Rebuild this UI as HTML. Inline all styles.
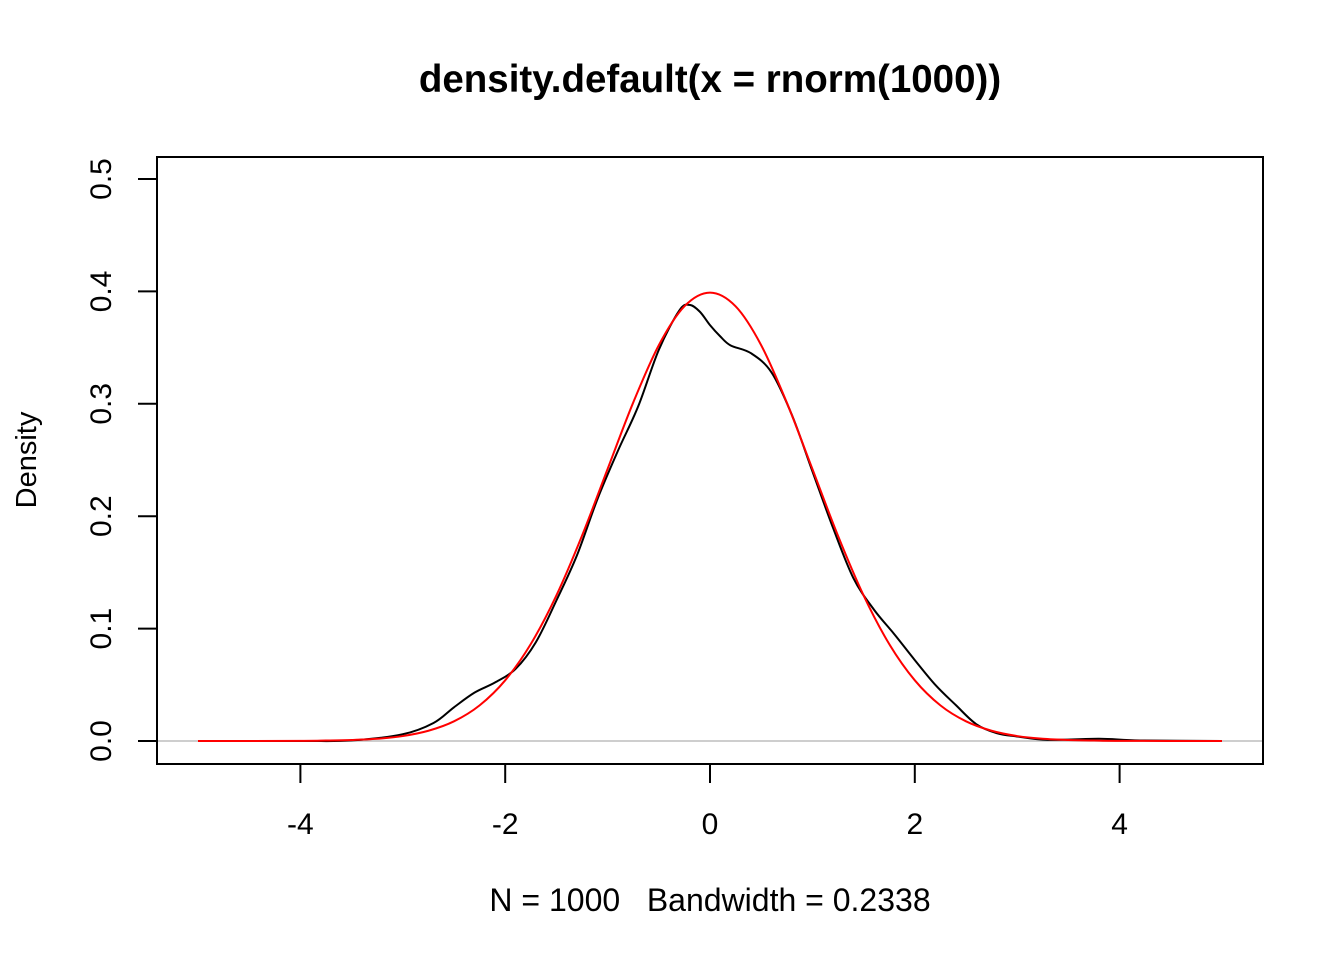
<!DOCTYPE html>
<html><head><meta charset="utf-8"><style>
body{margin:0;background:#fff}
svg{display:block;font-family:"Liberation Sans",Arial,sans-serif}
</style></head><body>
<svg id="chart" width="1344" height="960">
<text x="710" y="92" text-anchor="middle" font-size="38.5" font-weight="bold">density.default(x = rnorm(1000))</text>
<rect x="157" y="157" width="1106" height="607" fill="none" stroke="#000" stroke-width="2"/>
<text x="710" y="911" text-anchor="middle" font-size="32" xml:space="preserve" style="white-space:pre">N = 1000   Bandwidth = 0.2338</text>
<text transform="translate(36,460) rotate(-90)" text-anchor="middle" font-size="29">Density</text>
<g id="axes"></g>
<g id="marks"></g>
</svg>
<script>
const xTicks=[-4,-2,0,2,4];
const yTicks=[0,0.1,0.2,0.3,0.4,0.5];
const yTickLabels=["0.0","0.1","0.2","0.3","0.4","0.5"];
const kdeX=[-5,-4,-3.5,-3,-2.7,-2.5,-2.3,-2.1,-1.9,-1.7,-1.5,-1.3,-1.1,-0.9,-0.7,-0.5,-0.3,-0.2,-0.1,0,0.1,0.2,0.4,0.6,0.8,1.0,1.2,1.4,1.6,1.8,2.0,2.2,2.4,2.6,2.8,3.0,3.3,3.8,4.2,5];
const kdeY=[0,0,0.0005,0.006,0.016,0.03,0.043,0.052,0.064,0.088,0.125,0.165,0.215,0.258,0.298,0.348,0.383,0.388,0.382,0.37,0.36,0.352,0.345,0.328,0.29,0.24,0.19,0.145,0.117,0.095,0.072,0.05,0.032,0.015,0.007,0.004,0.001,0.002,0.0005,0];
const normX=[-5,-4,-3.75,-3.5,-3.25,-3,-2.75,-2.5,-2.25,-2,-1.75,-1.5,-1.25,-1,-0.75,-0.5,-0.25,0,0.25,0.5,0.75,1,1.25,1.5,1.75,2,2.25,2.5,2.75,3,3.25,3.5,3.75,4,5];
const normY=[0,0.0001,0.0004,0.0009,0.002,0.0044,0.0091,0.0175,0.0317,0.054,0.0863,0.1295,0.1826,0.242,0.3011,0.3521,0.3867,0.3989,0.3867,0.3521,0.3011,0.242,0.1826,0.1295,0.0863,0.054,0.0317,0.0175,0.0091,0.0044,0.002,0.0009,0.0004,0.0001,0];
const sx=v=>710+v*102.4;
const sy=v=>741-v*1124;
const NS="http://www.w3.org/2000/svg";
const axes=document.getElementById('axes'),marks=document.getElementById('marks');
function mk(tag,attrs,parent){const e=document.createElementNS(NS,tag);for(const k in attrs)e.setAttribute(k,attrs[k]);parent.appendChild(e);return e;}
function smooth(xs,ys){
 const p=xs.map((x,i)=>[sx(x),sy(ys[i])]);
 let d='M'+p[0][0]+','+p[0][1];
 for(let i=0;i<p.length-1;i++){
  const p0=p[Math.max(0,i-1)],p1=p[i],p2=p[i+1],p3=p[Math.min(p.length-1,i+2)];
  const c1=[p1[0]+(p2[0]-p0[0])/6,p1[1]+(p2[1]-p0[1])/6];
  const c2=[p2[0]-(p3[0]-p1[0])/6,p2[1]-(p3[1]-p1[1])/6];
  d+=` C${c1[0]},${c1[1]} ${c2[0]},${c2[1]} ${p2[0]},${p2[1]}`;
 }
 return d;
}
const xl=mk('line',{x1:sx(-4),x2:sx(4),y1:764,y2:764,stroke:'#000','stroke-width':2},axes);


xTicks.forEach(t=>{
 const l=mk('line',{x1:sx(t),x2:sx(t),y1:764,y2:783,stroke:'#000','stroke-width':2},axes);
 
 
 const tx=mk('text',{x:sx(t),y:834,'text-anchor':'middle','font-size':30},axes);
 tx.textContent=String(t);
 
 
});
yTicks.forEach((t,i)=>{
 const l=mk('line',{x1:138,x2:157,y1:sy(t),y2:sy(t),stroke:'#000','stroke-width':2},axes);
 
 
 const tx=mk('text',{transform:`translate(111,${sy(t)}) rotate(-90)`,'text-anchor':'middle','font-size':30},axes);
 tx.textContent=yTickLabels[i];
 
 
});
const zl=mk('line',{x1:158,x2:1262,y1:sy(0),y2:sy(0),stroke:'#bebebe','stroke-width':1.5},marks);


const kd=mk('path',{d:smooth(kdeX,kdeY),fill:'none',stroke:'#000','stroke-width':2,'stroke-linejoin':'round'},marks);


const nd=mk('path',{d:smooth(normX,normY),fill:'none',stroke:'#ff0000','stroke-width':2,'stroke-linejoin':'round'},marks);


</script>
</body></html>
